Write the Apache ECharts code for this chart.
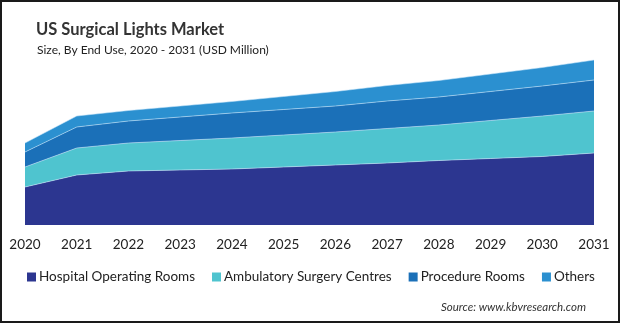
<!DOCTYPE html>
<html>
<head>
<meta charset="utf-8">
<script src="https://cdn.jsdelivr.net/npm/echarts@6/dist/echarts.min.js"></script>
<style>
html,body{margin:0;padding:0;background:#fff;}
#wrap{position:relative;width:620px;height:323px;box-sizing:border-box;border:2px solid #1a1a1a;background:#fff;}
#chart{position:absolute;left:-2px;top:-2px;width:620px;height:323px;}
</style>
</head>
<body>
<div id="wrap"><div id="chart"></div></div>
<script>
const years = ['2020','2021','2022','2023','2024','2025','2026','2027','2028','2029','2030','2031'];
const seriesNames = ['Hospital Operating Rooms','Ambulatory Surgery Centres','Procedure Rooms','Others'];
const hospital   = [38, 50, 54, 55, 56, 58, 60, 62, 64.5, 66.5, 68.5, 72];
const ambulatory = [20, 27, 28, 29.5, 31, 32, 33, 34.5, 35.5, 38, 40.5, 42];
const procedure  = [15, 21, 22, 23.5, 25, 25.5, 26, 27.5, 28, 29, 30, 31];
const others     = [9, 11, 10.5, 11, 11.5, 13, 14.5, 15.5, 16.5, 17.5, 18.5, 20];
const colors = ['#2c3690', '#4fc4cf', '#1b70b8', '#2b90d0'];

const chart = echarts.init(document.getElementById('chart'), null, {renderer:'canvas'});
const font = 'Lato, "Open Sans", sans-serif';
const dataSets = [hospital, ambulatory, procedure, others];
chart.setOption({
  animation:false,
  title:[
    {text:'US Surgical Lights Market', left:31, top:16, textStyle:{fontFamily:font, fontSize:16.5, fontWeight:'bold', color:'#333'}},
    {text:'Size, By End Use, 2020 - 2031 (USD Million)', left:32, top:39, textStyle:{fontFamily:font, fontSize:12, fontWeight:'normal', color:'#222'}},
    {text:'Source: www.kbvresearch.com', right:29, top:296, textStyle:{fontFamily:font, fontSize:11.5, fontStyle:'italic', fontWeight:'normal', color:'#333'}}
  ],
  color: colors,
  legend:{
    data: seriesNames, left:22, top:265, icon:'rect', itemWidth:9, itemHeight:9, itemGap:17,
    textStyle:{fontFamily:font, fontSize:13.5, color:'#222', padding:[0,0,0,-2]}
  },
  grid:{left:25, right:26, top:45, bottom:98},
  xAxis:{
    type:'category', data: years, boundaryGap:false,
    axisLine:{show:false}, axisTick:{show:false},
    axisLabel:{fontFamily:font, fontSize:13.5, color:'#222', margin:13}
  },
  yAxis:{type:'value', min:0, max:180, show:false, splitLine:{show:false}},
  series: seriesNames.map((n,i)=>({
    name:n, type:'line', stack:'total', data:dataSets[i], symbol:'none',
    lineStyle:{width:1, color:'rgba(200,230,250,0.55)'},
    areaStyle:{color:colors[i], opacity:1},
    itemStyle:{color:colors[i]}
  }))
});
</script>
</body>
</html>
